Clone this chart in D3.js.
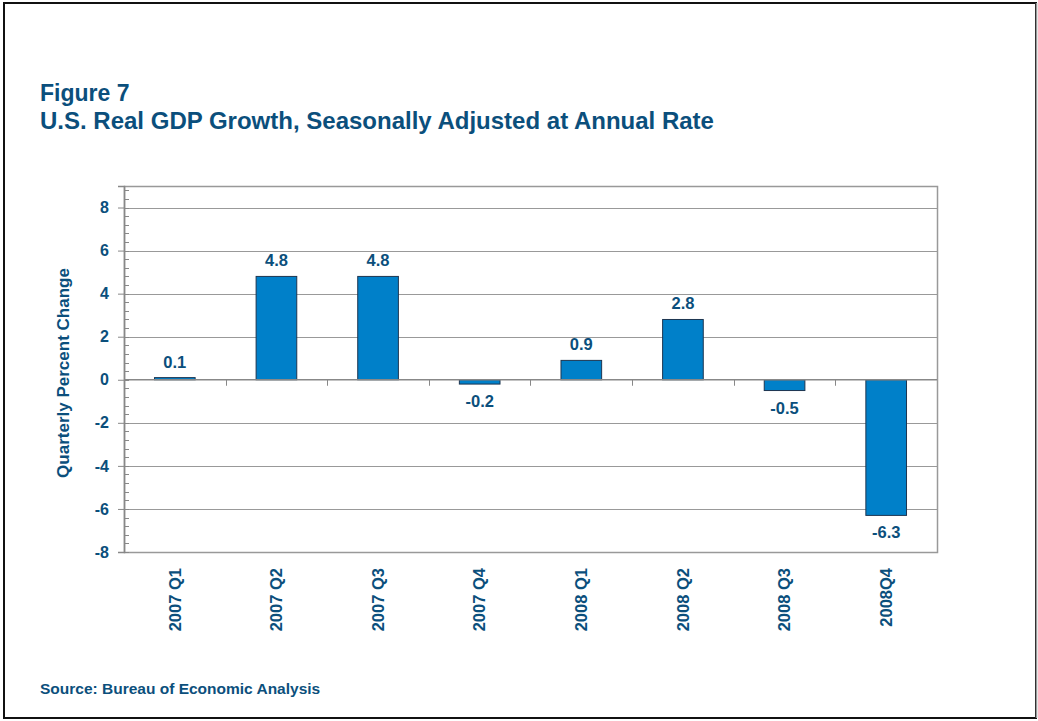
<!DOCTYPE html>
<html>
<head>
<meta charset="utf-8">
<script src="https://cdn.jsdelivr.net/npm/d3@7"></script>
<style>
  body { margin: 0; background: #fff; }
  svg { display: block; font-family: Arial, "Liberation Sans", sans-serif; }
</style>
</head>
<body>
<svg width="1038" height="721"></svg>
<script>
var quarters = ["2007 Q1", "2007 Q2", "2007 Q3", "2007 Q4", "2008 Q1", "2008 Q2", "2008 Q3", "2008Q4"];
var growth = [0.1, 4.8, 4.8, -0.2, 0.9, 2.8, -0.5, -6.3];
var yTicks = [-8, -6, -4, -2, 0, 2, 4, 6, 8];

var data = quarters.map((q, i) => ({ q: q, v: growth[i] }));

var ink = "#0B4F7C";
var svg = d3.select("svg");

// frame
svg.append("rect")
    .attr("x", 4).attr("y", 3)
    .attr("width", 1032).attr("height", 715)
    .attr("fill", "none").attr("stroke", "#111").attr("stroke-width", 2);
svg.append("line")
    .attr("x1", 1036.5).attr("x2", 1036.5).attr("y1", 3).attr("y2", 718)
    .attr("stroke", "#999").attr("stroke-width", 1.5);

svg.append("text")
    .attr("x", 40).attr("y", 101)
    .attr("fill", ink).attr("font-weight", "bold").attr("font-size", 23)
    .text("Figure 7");
svg.append("text")
    .attr("x", 40).attr("y", 129)
    .attr("fill", ink).attr("font-weight", "bold").attr("font-size", 24)
    .text("U.S. Real GDP Growth, Seasonally Adjusted at Annual Rate");

svg.append("text")
    .attr("x", 40).attr("y", 694)
    .attr("fill", ink).attr("font-weight", "bold").attr("font-size", 15.5)
    .text("Source: Bureau of Economic Analysis");

var margin = { top: 186, left: 124, right: 101, bottom: 169 },
    width = 1038 - margin.left - margin.right,
    height = 721 - margin.top - margin.bottom;

var g = svg.append("g")
    .attr("transform", `translate(${margin.left}, ${margin.top})`);

var x = d3.scaleBand()
    .domain(quarters)
    .range([0, width])
    .paddingInner(0.6)
    .paddingOuter(0.3);

var y = d3.scaleLinear()
    .domain([-8, 9])
    .range([height, 0]);

// gridlines
g.append("g")
    .selectAll("line")
    .data(yTicks.filter(d => d !== 0 && d !== -8))
    .enter().append("line")
        .attr("x1", 0).attr("x2", width)
        .attr("y1", d => Math.round(y(d)) + 0.5)
        .attr("y2", d => Math.round(y(d)) + 0.5)
        .attr("stroke", "#999").attr("stroke-width", 1);

// plot border
g.append("rect")
    .attr("x", 0.5).attr("y", 0.5)
    .attr("width", width).attr("height", height)
    .attr("fill", "none").attr("stroke", "#999").attr("stroke-width", 1.5);

// minor ticks
var minor = d3.range(-8, 9.01, 0.4).map(d => +d.toFixed(1));
g.append("g")
    .selectAll("line")
    .data(minor)
    .enter().append("line")
        .attr("x1", 0).attr("x2", 5)
        .attr("y1", d => Math.round(y(d)) + 0.5)
        .attr("y2", d => Math.round(y(d)) + 0.5)
        .attr("stroke", "#888");

// y axis
var yAxis = d3.axisLeft(y).tickValues(yTicks).tickFormat(d => String(d)).tickSize(6).tickPadding(9);
g.append("g")
    .attr("class", "axis y")
    .call(yAxis)
    .call(a => a.select(".domain").attr("stroke", "#888").attr("stroke-width", 1.5))
    .call(a => a.selectAll(".tick line").attr("stroke", "#888").attr("x2", 0).attr("x1", -6))
    .call(a => a.selectAll(".tick text")
        .attr("fill", ink).attr("font-weight", "bold").attr("font-size", 16)
        .attr("font-family", "Arial, 'Liberation Sans', sans-serif"));

g.append("text")
    .attr("transform", `translate(${63 - margin.left}, ${373 - margin.top}) rotate(-90)`)
    .attr("text-anchor", "middle")
    .attr("dy", "0.35em")
    .attr("fill", ink).attr("font-weight", "bold").attr("font-size", 17)
    .text("Quarterly Percent Change");

// bars
g.append("g")
    .selectAll("rect")
    .data(data)
    .enter().append("rect")
        .attr("x", d => x(d.q))
        .attr("y", d => y(Math.max(0, d.v)))
        .attr("width", x.bandwidth())
        .attr("height", d => Math.abs(y(d.v) - y(0)))
        .attr("fill", "#0080C9")
        .attr("stroke", "#1d3550")
        .attr("stroke-width", 1);

// zero line with category separators
g.append("line")
    .attr("x1", 0).attr("x2", width)
    .attr("y1", y(0)).attr("y2", y(0))
    .attr("stroke", "#888").attr("stroke-width", 1.5);
var gap = (x.step() - x.bandwidth()) / 2;
g.append("g")
    .selectAll("line")
    .data(quarters.slice(1))
    .enter().append("line")
        .attr("x1", d => Math.round(x(d) - gap) + 0.5)
        .attr("x2", d => Math.round(x(d) - gap) + 0.5)
        .attr("y1", y(0)).attr("y2", y(0) + 6)
        .attr("stroke", "#888");

// value labels
g.append("g")
    .selectAll("text")
    .data(data)
    .enter().append("text")
        .attr("x", d => x(d.q) + x.bandwidth() / 2)
        .attr("y", d => d.v >= 0 ? y(d.v) - 10 : y(d.v) + 23)
        .attr("text-anchor", "middle")
        .attr("fill", ink).attr("font-weight", "bold").attr("font-size", 16.5)
        .text(d => d.v.toFixed(1));

// category labels
g.append("g")
    .selectAll("text")
    .data(quarters)
    .enter().append("text")
        .attr("transform", d => `translate(${x(d) + x.bandwidth() / 2}, ${568 - margin.top}) rotate(-90)`)
        .attr("text-anchor", "end")
        .attr("dy", "0.35em")
        .attr("fill", ink).attr("font-weight", "bold").attr("font-size", 16.5)
        .text(d => d);
</script>
</body>
</html>
